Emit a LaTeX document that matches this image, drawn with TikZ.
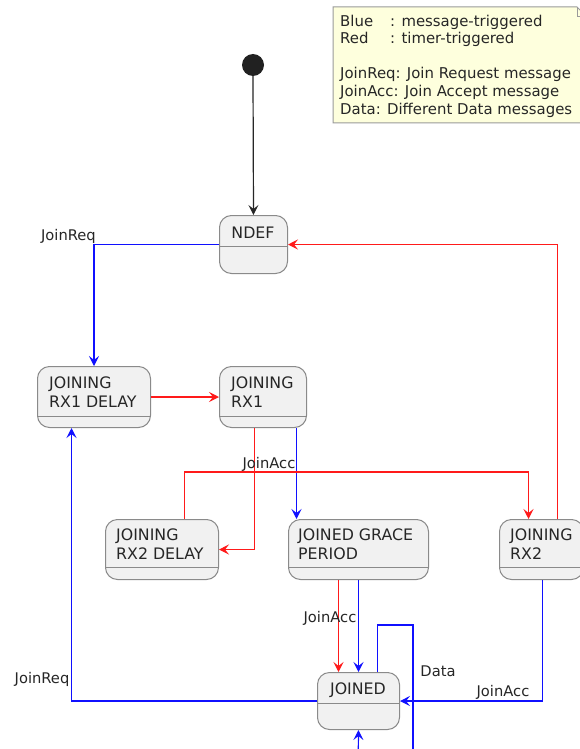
\documentclass[tikz,border=0pt]{standalone}
\usepackage{fontspec}
\setmainfont{DejaVu Sans}
\usetikzlibrary{arrows.meta}
\definecolor{stfill}{HTML}{F1F1F1}
\definecolor{stdraw}{HTML}{8A8A8A}
\definecolor{notefill}{HTML}{FEFFDD}
\definecolor{notedraw}{HTML}{9A9A9A}
\definecolor{myblue}{HTML}{1010FF}
\definecolor{myred}{HTML}{FF1A1A}
\tikzset{
  statebox/.style={draw=stdraw, fill=stfill, rounded corners=12pt, line width=1pt, inner sep=0pt, anchor=north west},
  divider/.style={draw=stdraw, line width=1pt},
  sttext/.style={inner sep=0pt, anchor=base west, font=\fontsize{15.8}{19}\selectfont, text=black!85},
  lbl/.style={inner sep=0pt, font=\fontsize{14.7}{17}\selectfont, text=black!85},
  notetext/.style={inner sep=0pt, anchor=base west, font=\fontsize{14.9}{17}\selectfont, text=black!85},
  tip/.style={-{Stealth[length=10pt,width=10pt,inset=4pt]}},
  bluearr/.style={draw=myblue, line width=1.2pt, tip},
  redarr/.style={draw=myred, line width=1.2pt, tip},
  blackarr/.style={draw=black!85, line width=1.2pt, tip},
  blueline/.style={draw=myblue, line width=1.2pt},
}
\begin{document}
\begin{tikzpicture}[x=1pt,y=-1pt]
\useasboundingbox (0,0) rectangle (580,749);
\clip (0,0) rectangle (580,749);
\fill[white] (0,0) rectangle (580,749);

% note
\path[fill=notefill, draw=notedraw, line width=1pt] (333,7) -- (577,7) -- (587,17) -- (587,123) -- (333,123) -- cycle;
\draw[notedraw, line width=1pt] (577,7) -- (577,17) -- (587,17);
\node[notetext] (n1) at (340,26.5) {\makebox[50pt][l]{Blue}: message-triggered};
\node[notetext] (n2) at (340,44) {\makebox[50pt][l]{Red}: timer-triggered};
\node[notetext] (n3) at (340,79) {JoinReq: Join Request message};
\node[notetext] (n4) at (340,96.5) {JoinAcc: Join Accept message};
\node[notetext] (n5) at (340,114) {Data: Different Data messages};

% start
\node[circle, fill=black!87, inner sep=0pt, minimum size=22pt] (start) at (253,65) {};

% states
\node[statebox, minimum width=68pt, minimum height=58pt] (ndef) at (219,215) {};
\draw[divider] (219,246) -- (287,246);
\node[sttext, anchor=base] (tndef) at (253,238) {NDEF};

\node[statebox, minimum width=113pt, minimum height=61pt] (rx1d) at (37,366) {};
\draw[divider] (37,416) -- (150,416);
\node[sttext] (trx1da) at (49,388) {JOINING};
\node[sttext] (trx1db) at (49,407) {RX1 DELAY};

\node[statebox, minimum width=87pt, minimum height=61pt] (rx1) at (219,366) {};
\draw[divider] (219,416) -- (306,416);
\node[sttext] (trx1a) at (231,388) {JOINING};
\node[sttext] (trx1b) at (231,407) {RX1};

\node[statebox, minimum width=113pt, minimum height=60pt] (rx2d) at (105,519) {};
\draw[divider] (105,567) -- (218,567);
\node[sttext] (trx2da) at (116,540) {JOINING};
\node[sttext] (trx2db) at (116,559) {RX2 DELAY};

\node[statebox, minimum width=140pt, minimum height=60pt] (grace) at (288,519) {};
\draw[divider] (288,567) -- (428,567);
\node[sttext] (tgra) at (298,540) {JOINED GRACE};
\node[sttext] (tgrb) at (298,559) {PERIOD};

\node[statebox, minimum width=84pt, minimum height=60pt] (rx2) at (499,519) {};
\draw[divider] (499,567) -- (583,567);
\node[sttext] (trx2a) at (510,540) {JOINING};
\node[sttext] (trx2b) at (510,559) {RX2};

\node[statebox, minimum width=82pt, minimum height=57pt] (joined) at (317,672) {};
\draw[divider] (317,703) -- (399,703);
\node[sttext, anchor=base] (tjoined) at (358,694) {JOINED};

\coordinate (belowA) at (413,780);
\coordinate (belowB) at (358,780);

% connectors
\draw[blackarr] (start.south) -- (ndef.north);
\draw[bluearr] (ndef.west) -| (rx1d.north);
\node[lbl, anchor=base east] (l1) at (96,240) {JoinReq};
\draw[redarr] (rx1d.east) -- (rx1.west);
\draw[redarr] ([xshift=-8.5pt]rx1.south) |- (rx2d.east);
\draw[bluearr] ([xshift=33.5pt]rx1.south) coordinate (a5) -- (a5 |- grace.north);
\node[lbl, anchor=base] (l2) at (269,468) {JoinAcc};
\draw[redarr] ([xshift=22.5pt]rx2d.north) -- ++(0,-47) -| ([xshift=-13pt]rx2.north);
\draw[redarr] ([xshift=16pt]rx2.north) |- (ndef.east);
\draw[redarr] ([xshift=-20pt]grace.south) coordinate (a8) -- (a8 |- joined.north);
\draw[bluearr] (grace.south) -- (joined.north);
\node[lbl, anchor=base] (l3) at (330,622) {JoinAcc};
\draw[bluearr] ([xshift=1pt]rx2.south) |- (joined.east);
\node[lbl, anchor=base] (l4) at (503,696) {JoinAcc};
\draw[bluearr] (joined.west) -| ([xshift=-22.5pt]rx1d.south);
\node[lbl, anchor=base] (l5) at (42,683) {JoinReq};
\draw[blueline] ([xshift=19pt]joined.north) -- ++(0,-47) -| (belowA);
\node[lbl, anchor=base] (l6) at (438,676) {Data};
\draw[bluearr] (belowB) -- (joined.south);
\end{tikzpicture}
\end{document}
